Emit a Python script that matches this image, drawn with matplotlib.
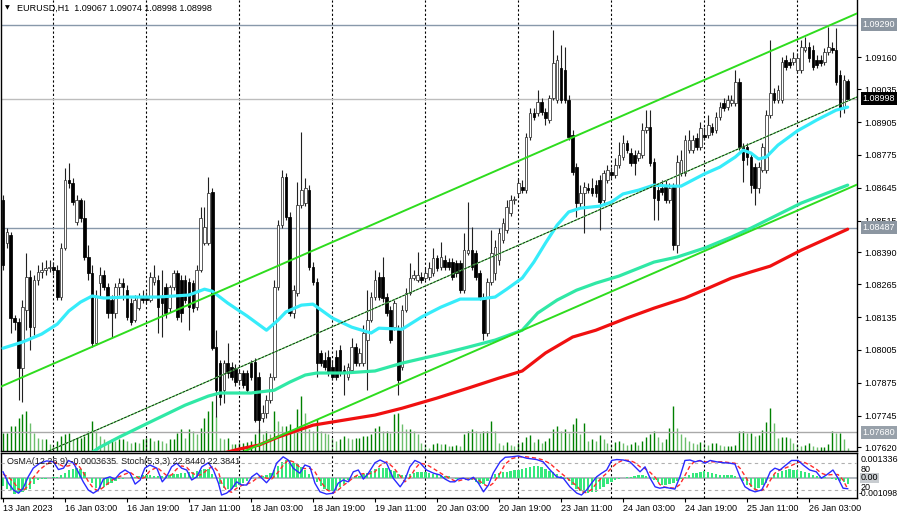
import numpy as np
import matplotlib
matplotlib.use("Agg")
import matplotlib.pyplot as plt
import matplotlib.transforms as mtransforms

plt.rcParams['font.family'] = ['Liberation Sans', 'DejaVu Sans']

# ---------------- data (EURUSD H1) ----------------
opens = [
 1.08597,1.08427,1.08459,1.08131,1.08115,1.07933,1.08162,1.08293,1.08095,1.08281,
 1.08313,1.08320,1.08328,1.08332,1.08320,1.08214,1.08407,1.08676,1.08664,1.08510,
 1.08597,1.08526,1.08372,1.08309,1.08032,1.08269,1.08301,1.08253,1.08202,1.08151,
 1.08253,1.08269,1.08241,1.08190,1.08123,1.08170,1.08214,1.08210,1.08202,1.08273,
 1.08281,1.08214,1.08253,1.08170,1.08253,1.08309,1.08281,1.08281,1.08273,1.08269,
 1.08174,1.08320,1.08427,1.08427,1.08629,1.08016,1.07953,1.07846,1.07953,1.07937,
 1.07933,1.07886,1.07914,1.07914,1.07953,1.07957,1.07898,1.07736,1.07756,1.07807,
 1.07898,1.08253,1.08498,1.08688,1.08530,1.08151,1.08230,1.08577,1.08585,1.08636,
 1.08332,1.08273,1.07993,1.07965,1.07977,1.07937,1.07977,1.08004,1.07925,1.07898,
 1.07925,1.08016,1.07953,1.07953,1.08044,1.08123,1.08214,1.08293,1.08293,1.08214,
 1.08162,1.08095,1.08083,1.07937,1.08162,1.08230,1.08289,1.08281,1.08293,1.08289,
 1.08293,1.08309,1.08368,1.08332,1.08360,1.08352,1.08352,1.08348,1.08348,1.08241,
 1.08388,1.08399,1.08388,1.08309,1.08214,1.08072,1.08273,1.08309,1.08360,1.08439,
 1.08478,1.08546,1.08597,1.08625,1.08648,1.08636,1.08846,1.08941,1.08941,1.08984,
 1.08945,1.08913,1.09000,1.08992,1.09118,1.09110,1.08992,1.08854,1.08727,1.08585,
 1.08625,1.08644,1.08644,1.08656,1.08676,1.08597,1.08676,1.08708,1.08696,1.08735,
 1.08767,1.08822,1.08783,1.08775,1.08763,1.08775,1.08873,1.08885,1.08747,1.08636,
 1.08644,1.08648,1.08597,1.08648,1.08419,1.08704,1.08704,1.08794,1.08794,1.08842,
 1.08806,1.08854,1.08854,1.08885,1.08873,1.08925,1.08980,1.08964,1.08980,1.08980,
 1.09063,1.08806,1.08806,1.08767,1.08727,1.08644,1.08715,1.08715,1.08933,1.09020,
 1.08992,1.08992,1.09150,1.09142,1.09142,1.09110,1.09110,1.09190,1.09201,1.09190,
 1.09150,1.09150,1.09142,1.09182,1.09197,1.09190,1.09091,1.08964,1.09067]
highs = [
 1.08617,1.08486,1.08471,1.08143,1.08131,1.08202,1.08388,1.08320,1.08301,1.08340,
 1.08352,1.08360,1.08360,1.08352,1.08340,1.08427,1.08723,1.08743,1.08684,1.08617,
 1.08605,1.08597,1.08419,1.08340,1.08241,1.08332,1.08320,1.08269,1.08222,1.08269,
 1.08289,1.08289,1.08261,1.08210,1.08222,1.08230,1.08241,1.08234,1.08313,1.08340,
 1.08301,1.08320,1.08269,1.08261,1.08320,1.08320,1.08301,1.08301,1.08289,1.08281,
 1.08340,1.08569,1.08569,1.08688,1.08644,1.08083,1.07965,1.07965,1.08032,1.07957,
 1.07949,1.07925,1.07925,1.07925,1.07965,1.07973,1.07918,1.07787,1.07827,1.07914,
 1.08281,1.08518,1.08715,1.08704,1.08550,1.08261,1.08668,1.08866,1.08684,1.08656,
 1.08352,1.08289,1.08004,1.07997,1.08004,1.07965,1.08004,1.08024,1.07945,1.07953,
 1.08052,1.08032,1.08012,1.08103,1.08241,1.08234,1.08320,1.08313,1.08372,1.08230,
 1.08178,1.08202,1.08103,1.08182,1.08249,1.08348,1.08320,1.08392,1.08313,1.08328,
 1.08352,1.08407,1.08380,1.08431,1.08380,1.08368,1.08368,1.08360,1.08360,1.08467,
 1.08589,1.08490,1.08399,1.08320,1.08230,1.08289,1.08478,1.08439,1.08486,1.08526,
 1.08597,1.08617,1.08613,1.08684,1.08676,1.08862,1.08960,1.08960,1.09031,1.09000,
 1.08960,1.09012,1.09269,1.09170,1.09209,1.09201,1.09012,1.08873,1.08743,1.08656,
 1.08668,1.08664,1.08684,1.08676,1.08696,1.08715,1.08735,1.08727,1.08763,1.08826,
 1.08854,1.08834,1.08802,1.08794,1.08794,1.08901,1.08952,1.08952,1.08763,1.08656,
 1.08676,1.08676,1.08664,1.08664,1.08775,1.08794,1.08854,1.08873,1.08854,1.08862,
 1.08905,1.08885,1.08933,1.08901,1.08945,1.08984,1.09000,1.09012,1.09012,1.09110,
 1.09079,1.08822,1.08822,1.08783,1.08743,1.08747,1.08822,1.08952,1.09229,1.09039,
 1.09051,1.09162,1.09170,1.09158,1.09182,1.09178,1.09229,1.09241,1.09221,1.09209,
 1.09170,1.09170,1.09197,1.09280,1.09221,1.09276,1.09110,1.09091,1.09074]
lows = [
 1.08320,1.08407,1.08072,1.08083,1.07807,1.07799,1.08083,1.08004,1.08064,1.08261,
 1.08289,1.08301,1.08313,1.08301,1.08202,1.08202,1.08399,1.08644,1.08577,1.08498,
 1.08510,1.08360,1.08281,1.08016,1.08024,1.08214,1.08241,1.08131,1.08056,1.08131,
 1.08222,1.08202,1.08123,1.08103,1.08115,1.08162,1.08190,1.08190,1.08194,1.08261,
 1.08072,1.08056,1.08131,1.08155,1.08241,1.08123,1.08115,1.08190,1.08083,1.08155,
 1.08162,1.08313,1.08419,1.08419,1.08004,1.07740,1.07787,1.07795,1.07894,1.07886,
 1.07862,1.07866,1.07854,1.07835,1.07886,1.07720,1.07677,1.07720,1.07736,1.07795,
 1.07886,1.08241,1.08486,1.08518,1.08139,1.08131,1.08218,1.08565,1.08573,1.08320,
 1.08261,1.07898,1.07941,1.07925,1.07902,1.07886,1.07886,1.07902,1.07827,1.07886,
 1.07914,1.07941,1.07941,1.07941,1.07846,1.08115,1.08202,1.08202,1.08194,1.08139,
 1.08032,1.08083,1.07827,1.07925,1.08155,1.08222,1.08281,1.08273,1.08269,1.08281,
 1.08281,1.08297,1.08317,1.08320,1.08320,1.08320,1.08281,1.08293,1.08230,1.08230,
 1.08380,1.08320,1.08281,1.08202,1.08044,1.08060,1.08261,1.08281,1.08340,1.08427,
 1.08467,1.08534,1.08581,1.08613,1.08625,1.08625,1.08834,1.08913,1.08929,1.08933,
 1.08893,1.08901,1.08992,1.08980,1.08980,1.08980,1.08834,1.08696,1.08530,1.08569,
 1.08467,1.08625,1.08613,1.08609,1.08478,1.08585,1.08664,1.08684,1.08684,1.08723,
 1.08755,1.08783,1.08731,1.08696,1.08751,1.08763,1.08862,1.08731,1.08518,1.08518,
 1.08617,1.08585,1.08585,1.08399,1.08388,1.08692,1.08692,1.08783,1.08783,1.08794,
 1.08794,1.08834,1.08842,1.08854,1.08862,1.08913,1.08949,1.08952,1.08968,1.08968,
 1.08794,1.08668,1.08735,1.08625,1.08577,1.08625,1.08708,1.08704,1.08921,1.08980,
 1.08980,1.08980,1.09110,1.09118,1.09130,1.09099,1.09099,1.09182,1.09142,1.09110,
 1.09118,1.09126,1.09130,1.09170,1.09178,1.09051,1.08925,1.08941,1.08998]
closes = [
 1.08340,1.08471,1.08131,1.08115,1.07933,1.08174,1.08293,1.08095,1.08281,1.08313,
 1.08320,1.08328,1.08332,1.08320,1.08214,1.08407,1.08676,1.08664,1.08589,1.08597,
 1.08526,1.08372,1.08309,1.08032,1.08214,1.08301,1.08253,1.08151,1.08151,1.08253,
 1.08269,1.08253,1.08135,1.08115,1.08202,1.08214,1.08202,1.08202,1.08293,1.08293,
 1.08174,1.08190,1.08151,1.08253,1.08309,1.08135,1.08151,1.08202,1.08174,1.08170,
 1.08320,1.08526,1.08490,1.08625,1.08012,1.07846,1.07819,1.07953,1.07914,1.07898,
 1.07878,1.07914,1.07866,1.07846,1.07898,1.07728,1.07728,1.07756,1.07807,1.07898,
 1.08253,1.08498,1.08688,1.08530,1.08151,1.08241,1.08577,1.08636,1.08644,1.08332,
 1.08273,1.07953,1.07953,1.07937,1.07914,1.07898,1.07898,1.07914,1.07914,1.07937,
 1.08016,1.07953,1.07993,1.08072,1.08123,1.08214,1.08281,1.08214,1.08210,1.08151,
 1.08044,1.08190,1.07886,1.08162,1.08230,1.08289,1.08301,1.08301,1.08281,1.08309,
 1.08328,1.08368,1.08328,1.08372,1.08332,1.08332,1.08293,1.08309,1.08241,1.08399,
 1.08399,1.08332,1.08293,1.08214,1.08072,1.08273,1.08388,1.08411,1.08467,1.08506,
 1.08569,1.08597,1.08601,1.08664,1.08636,1.08846,1.08941,1.08925,1.08984,1.08945,
 1.08921,1.09000,1.09138,1.09150,1.08992,1.08992,1.08846,1.08708,1.08585,1.08625,
 1.08648,1.08636,1.08625,1.08625,1.08589,1.08704,1.08715,1.08696,1.08735,1.08775,
 1.08822,1.08794,1.08743,1.08743,1.08783,1.08873,1.08885,1.08743,1.08605,1.08597,
 1.08629,1.08597,1.08644,1.08419,1.08747,1.08755,1.08834,1.08834,1.08834,1.08806,
 1.08881,1.08846,1.08893,1.08866,1.08925,1.08964,1.08960,1.08992,1.08992,1.09063,
 1.08806,1.08755,1.08767,1.08656,1.08644,1.08727,1.08806,1.08933,1.09020,1.08992,
 1.09031,1.09142,1.09122,1.09130,1.09158,1.09158,1.09201,1.09201,1.09158,1.09122,
 1.09130,1.09138,1.09182,1.09201,1.09190,1.09063,1.08960,1.09071,1.08998]

# tick volume (hundreds of ticks)
volumes = [
 18,18,25,25,33,37,40,28,18,13,
 12,12,7,5,10,15,17,18,12,13,
 13,15,20,30,20,15,12,10,12,10,
 12,12,10,8,9,8,12,13,13,10,
 11,10,8,12,12,18,22,13,22,20,
 17,23,33,40,50,35,13,12,13,7,
 7,8,8,9,10,17,22,17,20,17,
 40,30,25,25,27,20,42,55,38,22,
 20,32,20,18,17,13,10,12,15,13,
 12,13,13,15,15,17,23,25,20,20,
 18,37,38,27,22,22,20,17,8,7,
 3,7,8,7,7,5,5,6,5,17,
 20,22,20,18,20,20,30,20,8,6,
 9,6,5,8,9,14,16,9,12,8,
 10,13,22,25,20,22,18,27,33,17,
 28,10,12,10,16,12,8,7,9,10,
 8,6,7,9,6,10,14,17,20,14,
 9,12,23,45,23,17,14,10,8,7,
 9,8,6,8,8,6,5,5,5,6,
 20,20,18,18,15,16,21,29,43,28,
 13,14,14,13,8,7,5,6,8,5,
 4,4,4,7,20,18,18,12,3]

# OsMA(12,26,9) in units of 1e-5
osma_e5 = [
 -45,-59,-67,-86,-85,-77,-68,-63,-32,-14,
 -7,-5,-2,2,5,13,27,40,45,54,
 49,31,0,-27,-54,-59,-52,-38,-29,-20,
 -9,-5,0,4,5,11,16,16,13,9,
 7,7,11,14,18,22,23,27,29,31,
 34,41,49,45,18,0,-36,-54,-63,-61,
 -52,-41,-27,-20,-9,-4,0,7,16,27,
 40,63,85,95,95,81,74,58,41,22,
 0,-22,-45,-59,-72,-72,-67,-50,-32,-14,
 0,7,11,18,25,36,47,54,54,50,
 43,34,20,14,16,20,27,32,32,31,
 27,22,18,14,11,9,-4,-9,-5,-2,
 -7,-13,-23,-34,-36,-16,0,18,25,29,
 32,36,40,43,47,52,59,63,61,56,
 49,38,29,22,7,-5,-20,-41,-63,-72,
 -81,-81,-79,-76,-63,-49,-34,-22,-13,-5,
 0,4,5,9,13,13,11,5,-13,-25,
 -38,-41,-36,-27,-16,-5,5,16,23,27,
 31,34,29,23,20,16,16,14,13,7,
 -4,-20,-40,-49,-59,-54,-40,-27,-2,16,
 27,34,41,45,43,40,34,31,23,14,
 9,5,2,-2,-5,-13,-18,-25,-36]

# Stochastic(5,3,3): sampled positions (bar index) and values
stoch_x = [
 0,1.4,2.7,4,5.2,6.5,7.8,9.5,11.3,13,
 14.3,15.6,16.9,18.2,19.4,20.7,22,23.3,24.6,25.9,
 27.6,28.9,30.2,31.5,32.8,34.1,35.4,36.6,37.9,39.7,
 41.1,42.2,43.5,44.8,46.1,47.4,48.7,50,51.3,53,
 54.3,55.6,56.4,57.7,59,60.3,61.6,62.9,64.2,65.5,
 66.8,68,69.3,70.6,72.3,73.6,74.9,76.6,77.9,79.2,
 80.5,81.8,83.5,85.2,86.5,87.8,89.1,90.4,91.7,93,
 94.3,96,97.3,99,100.7,102.5,103.7,105,106.3,107.6,
 109.3,111.1,112.8,114.1,115.4,116.6,117.5,118.8,120.1,121.4,
 122.7,124,125.3,126.5,128.3,129.6,131.3,133,135.1,137.7,
 139.4,141.2,142.9,144.6,146.3,148.1,149.3,150.6,151.9,153.2,
 154.5,155.8,157.1,158.4,160.1,161.8,163.1,164.4,165.7,167,
 168.3,169.5,170.8,172.1,173.4,174.7,176,177.3,178.6,179.9,
 181.2,182.5,184.2,185.9,187.6,188.9,190.2,191.5,192.8,194.1,
 195.8,197.1,198,199.2,200.5,201.8,203.5,205.2,206.5,208.2,
 209.9,211.2,212.5,214.2,215.5,216.8,218]
stoch_main = [
 60,35,20,13,24,49,68,79,84,82,
 65,68,85,79,60,38,20,13,20,44,
 49,44,57,64,57,33,42,68,75,68,
 38,49,71,79,68,64,42,49,71,80,
 64,35,9,13,22,38,31,31,49,57,
 46,36,49,79,93,86,68,57,75,71,
 35,16,11,13,35,42,38,60,64,44,
 57,80,86,79,46,27,42,71,85,80,
 64,57,53,44,38,38,44,46,42,48,
 35,16,31,57,82,92,93,95,90,87,
 82,64,49,46,27,13,9,20,35,49,
 57,64,85,87,86,82,71,60,71,46,
 27,24,26,24,22,49,85,86,82,85,
 79,85,82,80,79,77,49,27,20,16,
 20,42,60,68,64,73,85,85,75,64,
 60,46,53,64,46,24,22.844]
stoch_signal = [
 55,48,38,22,19,29,47,65,77,82,
 77,72,73,77,75,59,39,24,18,26,
 38,46,50,55,59,51,44,48,62,70,
 60,52,53,66,73,70,58,52,54,67,
 72,60,36,19,15,24,30,33,37,46,
 51,46,44,55,74,86,82,70,67,68,
 60,41,21,13,20,30,38,47,54,56,
 55,60,74,82,70,51,38,47,66,79,
 76,67,58,51,45,40,40,43,44,45,
 42,33,27,35,57,77,89,93,93,90,
 86,78,65,53,41,29,16,14,21,35,
 47,57,69,79,86,85,80,71,67,59,
 48,32,26,25,24,32,52,73,84,84,
 82,82,82,82,80,79,68,51,32,21,
 19,26,41,57,64,68,74,81,82,75,
 66,57,53,54,54,42,22.384]

# Moving averages (bar index, price)
ma_fast_x = [0,5,10,14,17,20,23,26,32,40,48,52,54,58,63,68,71,73,77,80,
             85,90,95,97,103,108,113,118,123,127,130,134,137,140,143,146,149,154,157,160,
             164,168,172,175,178,181,185,189,191,193,195,197,200,205,210,215,218]
ma_fast = [1.08012,1.08036,1.08068,1.08107,1.08159,1.08194,1.08218,1.08210,1.08214,1.08214,
           1.08222,1.08245,1.08237,1.08190,1.08139,1.08083,1.08123,1.08155,1.08182,1.08186,
           1.08131,1.08095,1.08072,1.08091,1.08087,1.08135,1.08174,1.08206,1.08206,1.08214,
           1.08245,1.08289,1.08352,1.08427,1.08498,1.08550,1.08565,1.08573,1.08589,1.08621,
           1.08636,1.08656,1.08652,1.08652,1.08676,1.08700,1.08727,1.08767,1.08794,1.08783,
           1.08759,1.08767,1.08814,1.08870,1.08913,1.08952,1.08964]
ma_mid_x = [22,25,30,39,47,53,56,64,70,74,78,81,88,96,103,112,120,127,134,138,
            143,148,153,159,168,174,181,188,193,206,218]
ma_mid = [1.07590,1.07621,1.07661,1.07728,1.07787,1.07823,1.07835,1.07835,1.07846,1.07878,
          1.07906,1.07914,1.07914,1.07922,1.07953,1.07985,1.08016,1.08044,1.08083,1.08151,
          1.08202,1.08241,1.08269,1.08297,1.08352,1.08372,1.08407,1.08451,1.08486,1.08585,
          1.08656]
ma_slow_x = [57,61,66,71,80,88,96,103,112,120,128,134,140,147,153,161,168,176,182,188,
             193,198,206,218]
ma_slow = [1.07598,1.07614,1.07629,1.07661,1.07708,1.07728,1.07748,1.07775,1.07815,1.07854,
           1.07894,1.07922,1.07993,1.08056,1.08083,1.08131,1.08170,1.08210,1.08249,1.08289,
           1.08313,1.08336,1.08399,1.08482]

# Trend channel (two anchor points each: bar index, price)
chan_upper = [(0, 1.07864), (218, 1.09318)]
chan_lower = [(0, 1.07190), (218, 1.08642)]
chan_mid = [(0, 1.07527), (218, 1.08988)]

# Horizontal levels
level_high = 1.09290
level_last = 1.08998
level_mid = 1.08487
level_low = 1.07680

price_ticks = [1.09160, 1.09035, 1.08905, 1.08775, 1.08645, 1.08515, 1.08390,
               1.08265, 1.08135, 1.08005, 1.07875, 1.07745, 1.07620]
day_start_bars = [13, 37, 61, 85, 109, 133, 157, 181, 205]
time_tick_bars = [0, 16, 32, 48, 64, 80, 96, 112, 128, 144, 160, 176, 192, 208]
time_labels = ["13 Jan 2023", "16 Jan 03:00", "16 Jan 19:00", "17 Jan 11:00",
               "18 Jan 03:00", "18 Jan 19:00", "19 Jan 11:00", "20 Jan 03:00",
               "20 Jan 19:00", "23 Jan 11:00", "24 Jan 03:00", "24 Jan 19:00",
               "25 Jan 11:00", "26 Jan 03:00"]

# ---------------- figure ----------------
W, H = 900, 517
fig = plt.figure(figsize=(9, 5.17), dpi=100)
fig.patch.set_facecolor('white')


def rect(x0, y0, x1, y1):
    return [x0 / W, 1 - y1 / H, (x1 - x0) / W, (y1 - y0) / H]


FS = 6.5
XL = (-0.52, 220.4)
YL = (1.07606, 1.09387)

o = np.array(opens); h = np.array(highs); l = np.array(lows); c = np.array(closes)
bars = np.arange(len(c))

# volume layer (behind)
ax_vol = fig.add_axes(rect(1, 0, 857, 451))
ax_vol.set_xlim(*XL)
ax_vol.set_ylim(0, 451)
vol = np.array(volumes)
vcol = ['#008000' if (i == 0 or vol[i] >= vol[i - 1]) else '#6cbf6c' for i in range(len(vol))]
ax_vol.vlines(bars, 0, vol, colors=vcol, lw=1.0)
ax_vol.axis('off')

# main price panel
ax = fig.add_axes(rect(1, 0, 857, 451))
ax.set_facecolor('none')
ax.set_xlim(*XL)
ax.set_ylim(*YL)
for b in day_start_bars:
    ax.axvline(b, color='black', lw=0.8, ls=(0, (2, 2)), zorder=1)
ax.axhline(level_high, color='#8898aa', lw=1.0, zorder=1)
ax.axhline(level_last, color='#bdbdbd', lw=1.0, zorder=1)
ax.axhline(level_mid, color='#8898aa', lw=1.0, zorder=1)
ax.axhline(level_low, color='#a9a9a9', lw=1.0, zorder=1)

up = c >= o
ax.vlines(bars, l, h, color='#202020', lw=0.8, zorder=3)
ax.bar(bars[up], (c - o)[up], bottom=o[up], width=0.68, color='white',
       edgecolor='#303030', linewidth=0.55, zorder=4)
ax.bar(bars[~up], (c - o)[~up], bottom=o[~up], width=0.68, color='black',
       edgecolor='black', linewidth=0.55, zorder=4)

ax.plot(ma_slow_x, ma_slow, color='#f01010', lw=2.3, zorder=5, solid_capstyle='round')
ax.plot(ma_mid_x, ma_mid, color='#30e8a6', lw=2.3, zorder=5, solid_capstyle='round')
ax.plot(ma_fast_x, ma_fast, color='#36ecfa', lw=2.3, zorder=5, solid_capstyle='round')

ax.axline(chan_upper[0], chan_upper[1], color='#2edc1e', lw=1.4, zorder=6)
ax.axline(chan_lower[0], chan_lower[1], color='#2edc1e', lw=1.4, zorder=6)
ax.axline(chan_mid[0], chan_mid[1], color='#5fd85f', lw=0.9, zorder=6)
ax.axline(chan_mid[0], chan_mid[1], color='#111111', lw=0.6, ls=(0, (3, 1.5)), zorder=6)

ax.spines['top'].set_visible(False)
for s in ['left', 'right', 'bottom']:
    ax.spines[s].set_color('black')
    ax.spines[s].set_linewidth(1.0)
ax.set_xticks([])
ax.yaxis.tick_right()
ax.set_yticks(price_ticks)
ax.set_yticklabels([f'{v:.5f}' for v in price_ticks])
ax.tick_params(axis='y', length=3, width=0.8, labelsize=FS, pad=2, colors='black')

tr = mtransforms.blended_transform_factory(ax.transAxes, ax.transData)
for val, fc in [(level_high, '#8c96a1'), (level_mid, '#8c96a1'),
                (level_low, '#98a1aa'), (level_last, '#000000')]:
    ax.text(1.0065, val, f'{val:.5f}', transform=tr, ha='left', va='center',
            fontsize=FS, color='white', clip_on=False, zorder=10,
            bbox=dict(boxstyle='square,pad=0.22', fc=fc, ec='none'))

# oscillator panel
ax_os = fig.add_axes(rect(1, 453, 857, 498))
ax_os.set_xlim(*XL)
ax_os.set_ylim(-0.001098, 0.001336)
osma = np.array(osma_e5) * 1e-5
ax_os.axhline(0, color='#a3abb3', lw=1.2, zorder=1)
ax_os.bar(bars, osma, width=0.6, color='#35e87c', zorder=2)
for b in day_start_bars:
    ax_os.axvline(b, color='black', lw=0.8, ls=(0, (2, 2)), zorder=1)
for s in ax_os.spines.values():
    s.set_color('black')
    s.set_linewidth(1.0)
ax_os.set_yticks([])
ax_os.set_xticks(time_tick_bars)
ax_os.set_xticklabels(time_labels)
ax_os.tick_params(axis='x', length=3, width=0.8, labelsize=FS, pad=1.5)
for lbl in ax_os.get_xticklabels():
    lbl.set_ha('left')

ax_st = fig.add_axes(rect(1, 453, 857, 498))
ax_st.set_facecolor('none')
ax_st.set_xlim(*XL)
ax_st.set_ylim(2.4, 101.4)
ax_st.axhline(80, color='#b0b0b0', lw=0.8, ls=(0, (3, 3)))
ax_st.axhline(20, color='#b0b0b0', lw=0.8, ls=(0, (3, 3)))
ax_st.plot(stoch_x, stoch_signal, color='#ff2a2a', lw=1.0, ls=(0, (3, 2)))
ax_st.plot(stoch_x, stoch_main, color='#2a2aff', lw=1.0)
ax_st.axis('off')


def ftext(x, y, s, **kw):
    fig.text(x / W, 1 - y / H, s, **kw)


ftext(5, 8, '\u25BC', fontsize=4.5, va='center', ha='left', family=['DejaVu Sans'])
ftext(17, 8, 'EURUSD,H1  1.09067 1.09074 1.08998 1.08998', fontsize=FS, va='center', ha='left')
ftext(7, 461, 'OsMA(12,26,9) -0.0003635  Stoch(5,3,3) 22.8440 22.3841',
      fontsize=FS, va='center', ha='left', color='#202020')
ftext(861, 459, '0.001336', fontsize=FS, va='center', ha='left')
ftext(861, 470, '80', fontsize=FS, va='center', ha='left')
ftext(861, 478, '0.00', fontsize=FS, va='center', ha='left',
      bbox=dict(boxstyle='square,pad=0.1', fc='#c8ccd0', ec='none'))
ftext(861, 488, '20', fontsize=FS, va='center', ha='left')
ftext(859, 494, '-0.001098', fontsize=6.2, va='center', ha='left')

fig.savefig('out.png', dpi=100)
